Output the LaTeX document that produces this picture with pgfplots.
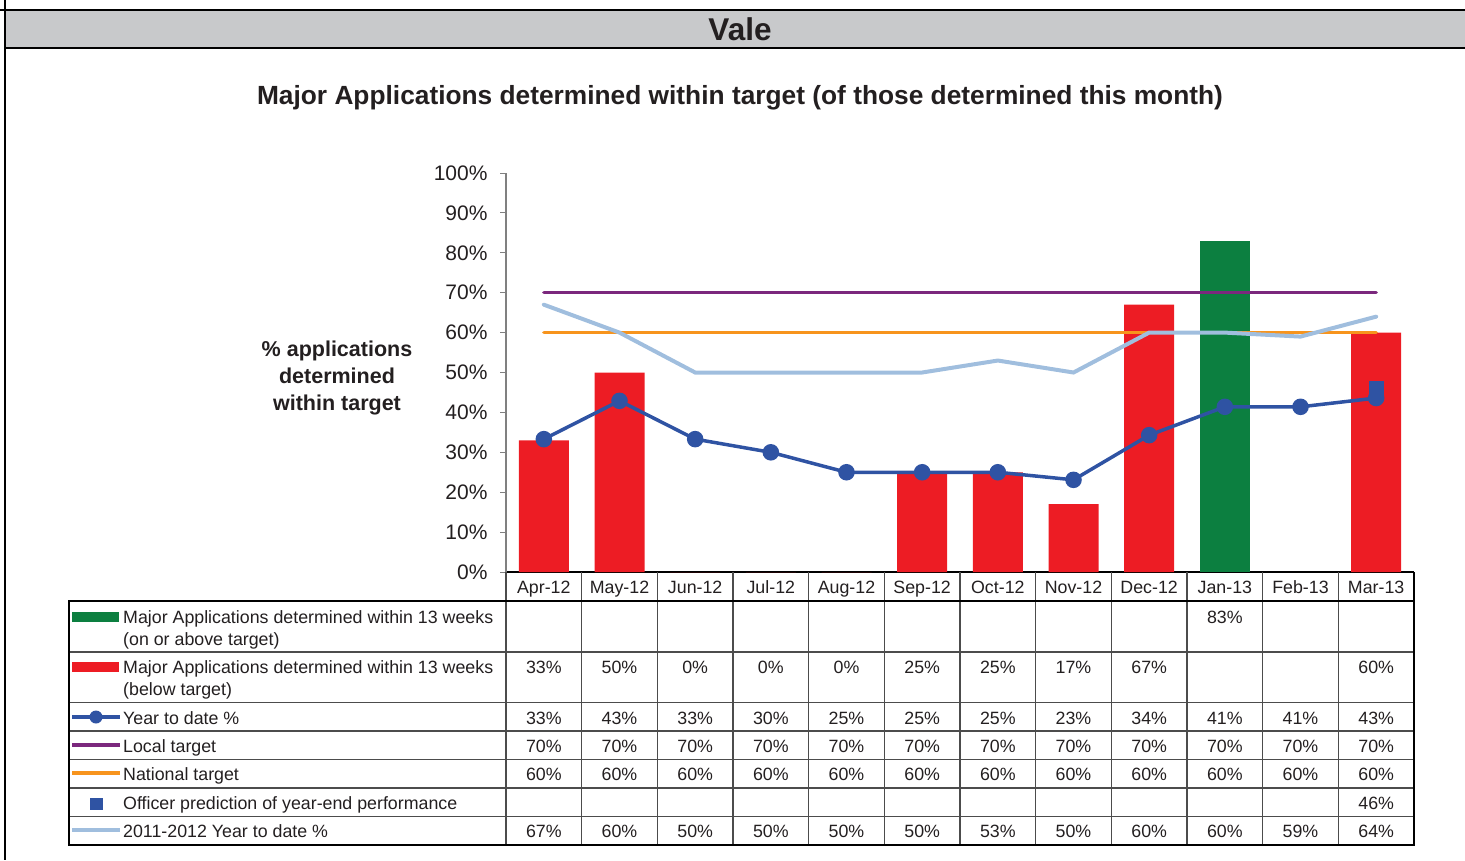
\documentclass[border=0pt]{standalone}
\usepackage{pgfplots}
\pgfplotsset{compat=1.18}
\usepackage{fontspec}
\setmainfont{Liberation Sans}
\definecolor{barred}{RGB}{237,28,36}
\definecolor{bargreen}{RGB}{12,127,64}
\definecolor{ytdblue}{RGB}{47,83,163}
\definecolor{localpurple}{RGB}{123,40,125}
\definecolor{natorange}{RGB}{247,148,29}
\definecolor{lightblue}{RGB}{160,190,222}
\definecolor{headgray}{RGB}{200,201,203}
\definecolor{txt}{RGB}{35,31,32}
\newcommand{\tf}{\fontsize{17.8}{21}\selectfont}
\begin{document}
\begin{tikzpicture}[every node/.append style={text=txt}]
\begin{scope}[x=1pt,y=-1pt]
\useasboundingbox (0,0) rectangle (1465,860);
% header band
\fill[headgray] (5,10) rectangle (1465,48);
\draw[black,line width=2pt] (0,10) -- (1465,10);
\draw[black,line width=1.5pt] (5,48) -- (1465,48);
\draw[black,line width=2pt] (5,0) -- (5,860);
\node[anchor=base,font=\fontsize{31.5}{36}\selectfont\bfseries] at (740,40) {Vale};
\node[anchor=base,font=\fontsize{26.3}{30}\selectfont\bfseries] at (740,104) {Major Applications determined within target (of those determined this month)};
\node[align=center,font=\fontsize{21.5}{27}\selectfont\bfseries] at (337,378) {\% applications\\determined\\within target};
\end{scope}

\begin{axis}[at={(506pt,-572pt)}, anchor=south west,
  width=908pt, height=399pt, scale only axis,
  xmin=-0.5, xmax=11.5, ymin=0, ymax=100,
  axis x line*=bottom, axis y line*=left,
  x axis line style={black, line width=1.3pt},
  y axis line style={gray, line width=1.2pt},
  xtick={0,...,11},
  xticklabels={Apr-12,May-12,Jun-12,Jul-12,Aug-12,Sep-12,Oct-12,Nov-12,Dec-12,Jan-13,Feb-13,Mar-13},
  x tick style={draw=none},
  xticklabel style={anchor=base, yshift=-15pt, font=\tf},
  ytick={0,10,...,100},
  yticklabels={0\%,10\%,20\%,30\%,40\%,50\%,60\%,70\%,80\%,90\%,100\%},
  y tick style={draw=gray, line width=1pt},
  tick align=outside, major tick length=6pt,
  yticklabel style={font=\fontsize{21}{24}\selectfont, xshift=-9pt},
  clip=false]
\addplot[ybar, bar width=50pt, bar shift=0pt, fill=bargreen, draw=none] coordinates {(9,83)};
\addplot[ybar, bar width=50pt, bar shift=0pt, fill=barred, draw=none] coordinates {(0,33)(1,50)(2,0)(3,0)(4,0)(5,25)(6,25)(7,17)(8,67)(11,60)};
\addplot[localpurple, line width=3.5pt, line cap=round, mark=none] coordinates {(0,70)(1,70)(2,70)(3,70)(4,70)(5,70)(6,70)(7,70)(8,70)(9,70)(10,70)(11,70)};
\addplot[natorange, line width=3.5pt, line cap=round, mark=none] coordinates {(0,60)(1,60)(2,60)(3,60)(4,60)(5,60)(6,60)(7,60)(8,60)(9,60)(10,60)(11,60)};
\addplot[lightblue, line width=4pt, line cap=round, mark=none] coordinates {(0,67)(1,60)(2,50)(3,50)(4,50)(5,50)(6,53)(7,50)(8,60)(9,60)(10,59)(11,64)};
\addplot[only marks, mark=square*, mark size=7pt, color=ytdblue] coordinates {(11,46)};
\addplot[ytdblue, line width=3.5pt, mark=*, mark size=6.5pt] coordinates {(0,33.3)(1,42.9)(2,33.3)(3,30)(4,25)(5,25)(6,25)(7,23.1)(8,34.3)(9,41.4)(10,41.4)(11,43.6)};
\end{axis}

\begin{scope}[x=1pt,y=-1pt]
% table grid
\foreach \k in {1,...,11} \draw[black!70,line width=1.2pt] ({506+75.667*\k},572) -- ({506+75.667*\k},845);
\foreach \yy in {652,702.5,731,759.5,788,816.5} \draw[black!70,line width=1.2pt] (69,\yy) -- (1414,\yy);
\draw[black!70,line width=1.2pt] (506,572) -- (506,845);
\draw[black,line width=1.3pt] (1414,572) -- (1414,601);
\draw[black,line width=1.3pt] (506,601) -- (1414,601);
\draw[black,line width=1.3pt] (69,601) rectangle (1414,845);
% legend swatches
\fill[bargreen] (72,612) rectangle (119,622);
\fill[barred] (72,662) rectangle (119,672);
\draw[ytdblue,line width=3.5pt] (72,717) -- (120,717);
\fill[ytdblue] (96,717) circle (6.5);
\draw[localpurple,line width=3.5pt] (72,745) -- (120,745);
\draw[natorange,line width=3.5pt] (72,773) -- (120,773);
\fill[ytdblue] (89.5,797.5) rectangle (102.5,809.5);
\draw[lightblue,line width=4pt] (72,830) -- (120,830);
% legend texts
\begin{scope}[every node/.style={anchor=base west,font=\tf,inner sep=0pt,text=txt}]
\node at (123,623) {Major Applications determined within 13 weeks};
\node at (123,645) {(on or above target)};
\node at (123,673) {Major Applications determined within 13 weeks};
\node at (123,695) {(below target)};
\node at (123,724) {Year to date \%};
\node at (123,752) {Local target};
\node at (123,780) {National target};
\node at (123,809) {Officer prediction of year-end performance};
\node at (123,837) {2011-2012 Year to date \%};
\end{scope}
% table values
\begin{scope}[every node/.style={anchor=base,font=\tf,inner sep=0pt,text=txt}]
\foreach \i/\v in {9/83} \node at ({543.83+75.667*\i},623) {\v\%};
\foreach \i/\v in {0/33,1/50,2/0,3/0,4/0,5/25,6/25,7/17,8/67,11/60} \node at ({543.83+75.667*\i},673) {\v\%};
\foreach \v [count=\i from 0] in {33,43,33,30,25,25,25,23,34,41,41,43} \node at ({543.83+75.667*\i},724) {\v\%};
\foreach \v [count=\i from 0] in {70,70,70,70,70,70,70,70,70,70,70,70} \node at ({543.83+75.667*\i},752) {\v\%};
\foreach \v [count=\i from 0] in {60,60,60,60,60,60,60,60,60,60,60,60} \node at ({543.83+75.667*\i},780) {\v\%};
\foreach \i/\v in {11/46} \node at ({543.83+75.667*\i},809) {\v\%};
\foreach \v [count=\i from 0] in {67,60,50,50,50,50,53,50,60,60,59,64} \node at ({543.83+75.667*\i},837) {\v\%};
\end{scope}
\end{scope}
\end{tikzpicture}
\end{document}
